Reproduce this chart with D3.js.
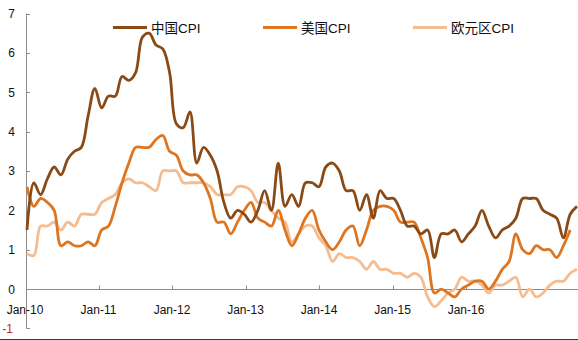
<!DOCTYPE html>
<html><head><meta charset="utf-8">
<script src="https://cdn.jsdelivr.net/npm/d3@7"></script>
<style>html,body{margin:0;padding:0;background:#fff;}svg{display:block;}</style>
</head><body>
<svg id="c" width="578" height="340"></svg>
<script>
// monthly, Jan-10 .. Oct-16
const chinaCPI = [
  1.5, 2.7, 2.4, 2.8, 3.1, 2.9, 3.3, 3.5, 3.6, 4.4, 5.1, 4.6,
  4.9, 4.9, 5.4, 5.3, 5.5, 6.4, 6.5, 6.2, 6.1, 5.5, 4.2, 4.1,
  4.5, 3.2, 3.6, 3.4, 3.0, 2.2, 1.8, 2.0, 1.9, 1.7, 2.0, 2.5,
  2.0, 3.2, 2.1, 2.4, 2.1, 2.7, 2.7, 2.6, 3.1, 3.2, 3.0, 2.5,
  2.5, 2.0, 2.4, 1.8, 2.5, 2.3, 2.3, 2.0, 1.6, 1.6, 1.4, 1.5,
  0.8, 1.4, 1.4, 1.5, 1.2, 1.4, 1.6, 2.0, 1.6, 1.3, 1.5, 1.6,
  1.8, 2.3, 2.3, 2.3, 2.0, 1.9, 1.8, 1.3, 1.9, 2.1
];
const usCPI = [
  2.6, 2.1, 2.3, 2.2, 2.0, 1.1, 1.2, 1.1, 1.1, 1.2, 1.1, 1.5,
  1.6, 2.1, 2.7, 3.2, 3.6, 3.6, 3.6, 3.8, 3.9, 3.5, 3.4, 3.0,
  2.9, 2.9, 2.7, 2.3, 1.7, 1.7, 1.4, 1.7, 2.0, 2.2, 1.8, 1.7,
  1.6, 2.0, 1.5, 1.1, 1.4, 1.8, 2.0, 1.5, 1.2, 1.0, 1.2, 1.5,
  1.6, 1.1, 1.5, 2.0, 2.1, 2.1, 2.0, 1.7, 1.7, 1.7, 1.3, 0.8,
  -0.1, 0.0, -0.1, -0.2, 0.0, 0.1, 0.2, 0.2, 0.0, 0.2, 0.5, 0.7,
  1.4, 1.0, 0.9, 1.1, 1.0, 1.0, 0.8, 1.1, 1.5
];
const euroCPI = [
  0.9, 0.85, 1.6, 1.6, 1.7, 1.5, 1.7, 1.6, 1.9, 1.9, 1.9, 2.2,
  2.3, 2.4, 2.7, 2.8, 2.7, 2.7, 2.6, 2.5, 3.0, 3.0, 3.0, 2.7,
  2.7, 2.7, 2.7, 2.6, 2.4, 2.4, 2.4, 2.6, 2.6, 2.5, 2.2, 2.2,
  2.0, 1.8, 1.7, 1.2, 1.4, 1.6, 1.6, 1.3, 1.1, 0.7, 0.9, 0.8,
  0.8, 0.7, 0.5, 0.7, 0.5, 0.5, 0.4, 0.4, 0.3, 0.4, 0.3, -0.2,
  -0.45, -0.3, -0.1, 0.0, 0.3, 0.2, 0.2, 0.1, -0.1, 0.1, 0.1, 0.2,
  0.3, -0.2, 0.0, -0.2, -0.1, 0.1, 0.2, 0.2, 0.4, 0.5
];
const xTickLabels = ["Jan-10","Jan-11","Jan-12","Jan-13","Jan-14","Jan-15","Jan-16"];
const yTicks = [-1,0,1,2,3,4,5,6,7];
const seriesNames = ["中国CPI","美国CPI","欧元区CPI"];
const colors = ["#8a4a16","#de7521","#f5bc90"];

const svg = d3.select("#c");
const x = d3.scaleLinear().domain([0, chinaCPI.length - 1]).range([27, 577]);
const xl = d3.scalePoint().domain(xTickLabels).range([25, 466]);
const y = d3.scaleLinear().domain([-1, 7]).range([328.4, 13.5]);
const axisColor = "#8c8c8c";
const font = "'Liberation Sans', Arial, 'Noto Sans CJK SC', sans-serif";

// y axis line
svg.append("line").attr("x1",26.5).attr("x2",26.5).attr("y1",y(7)).attr("y2",y(-1))
  .attr("stroke",axisColor).attr("stroke-width",1);
svg.selectAll(".yt").data(yTicks).enter().append("line")
  .attr("x1",26.5).attr("x2",30).attr("y1",d=>Math.round(y(d))+0.5).attr("y2",d=>Math.round(y(d))+0.5)
  .attr("stroke",axisColor);
svg.selectAll(".yl").data(yTicks).enter().append("text")
  .attr("x",d=>d<0?13:15).attr("y",d=>y(d)+4.5)
  .attr("text-anchor","end").attr("font-family",font).attr("font-size",12)
  .attr("fill",d=>d<0?"#d01c1c":"#111").text(d=>d);

// x axis line at 0
const y0 = Math.round(y(0))+0.5;
svg.append("line").attr("x1",26.5).attr("x2",578).attr("y1",y0).attr("y2",y0)
  .attr("stroke",axisColor);
svg.selectAll(".xt").data(xTickLabels.slice(1)).enter().append("line")
  .attr("x1",d=>Math.round(xl(d))+0.5).attr("x2",d=>Math.round(xl(d))+0.5)
  .attr("y1",y0).attr("y2",y0-4).attr("stroke",axisColor);

const line = d3.line().x((d,i)=>x(i)).y(d=>y(d)).curve(d3.curveCatmullRom.alpha(0.5));
const data = [euroCPI, usCPI, chinaCPI];
const cols = [colors[2], colors[1], colors[0]];
data.forEach((s,k)=>{
  svg.append("path").attr("d",line(s)).attr("fill","none")
    .attr("stroke",cols[k]).attr("stroke-width",2.8).attr("stroke-linejoin","round");
});

svg.selectAll(".xl").data(xTickLabels).enter().append("text")
  .attr("x",d=>xl(d)).attr("y",314).attr("text-anchor","middle")
  .attr("font-family",font).attr("font-size",12).attr("fill","#111").text(d=>d);

// legend
const legX = [113, 263, 413];
seriesNames.forEach((n,i)=>{
  svg.append("line").attr("x1",legX[i]).attr("x2",legX[i]+34).attr("y1",27.5).attr("y2",27.5)
    .attr("stroke",colors[i]).attr("stroke-width",3);
  svg.append("text").attr("x",legX[i]+38).attr("y",32.5).attr("font-family",font)
    .attr("font-size",13.5).attr("fill","#111").text(n);
});

// bottom border
svg.append("line").attr("x1",0).attr("x2",578).attr("y1",339.5).attr("y2",339.5)
  .attr("stroke","#6e1f2c").attr("stroke-width",1);
</script>
</body></html>
